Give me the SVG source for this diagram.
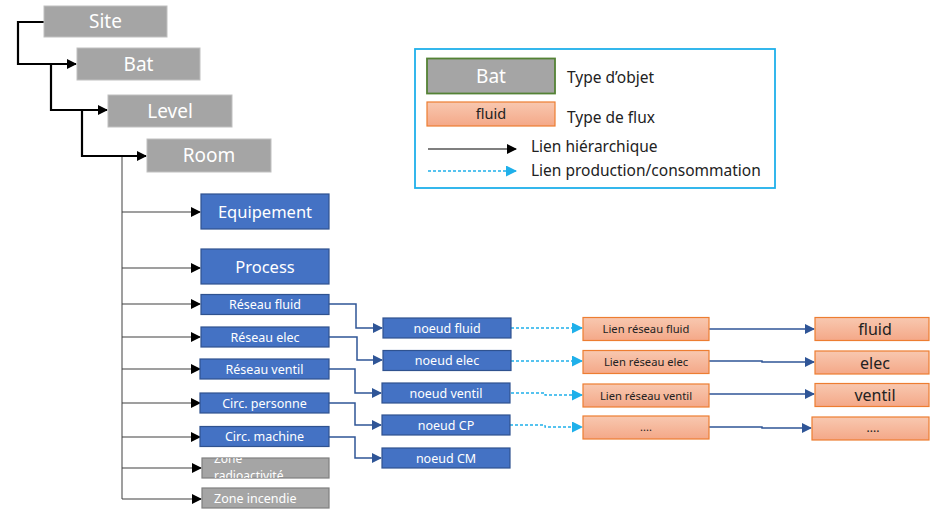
<svg xmlns="http://www.w3.org/2000/svg" width="930" height="509" viewBox="0 0 930 509">
  <style>
    text { font-family: "Noto Sans", "Open Sans", "DejaVu Sans", sans-serif; }
    .obj { fill: #A5A5A5; stroke: #C0C0C0; stroke-width: 1; }
    .zone { fill: #A5A5A5; stroke: #7F7F7F; stroke-width: 1.2; }
    .blue { fill: #4472C4; stroke: #2F528F; stroke-width: 1.2; }
    .flux { fill: url(#fluxGrad); stroke: #ED7D31; stroke-width: 1.2; }
    .lw { fill: #FFFFFF; text-anchor: middle; }
    .ld { fill: #222222; text-anchor: middle; }
    .hier { fill: none; stroke: #000000; stroke-width: 2.2; }
    .room { fill: none; stroke: #7F7F7F; stroke-width: 1.5; }
    .sub { fill: none; stroke: #404040; stroke-width: 1.2; }
    .net { fill: none; stroke: #2F5597; stroke-width: 1.5; }
    .prod { fill: none; stroke: #1FB0EA; stroke-width: 1.3; stroke-dasharray: 3 2; }
    .leg { fill: #222222; font-size: 15.5px; }
  </style>
  <defs>
    <linearGradient id="fluxGrad" x1="0" y1="0" x2="0" y2="1">
      <stop offset="0" stop-color="#F8C8B0"/>
      <stop offset="1" stop-color="#F4A888"/>
    </linearGradient>
    <marker id="arrBlack" markerWidth="10" markerHeight="10" refX="9" refY="5" orient="auto" markerUnits="userSpaceOnUse">
      <path d="M0,0 L10,5 L0,10 Z" fill="#000000"/>
    </marker>
    <marker id="arrBlue" markerWidth="10" markerHeight="10" refX="9" refY="5" orient="auto" markerUnits="userSpaceOnUse">
      <path d="M0,0 L10,5 L0,10 Z" fill="#2F5597"/>
    </marker>
    <marker id="arrCyan" markerWidth="11" markerHeight="11" refX="10" refY="5.5" orient="auto" markerUnits="userSpaceOnUse">
      <path d="M0,0 L11,5.5 L0,11 Z" fill="#1FB0EA"/>
    </marker>
    <clipPath id="clipRadio">
      <rect x="202" y="458" width="127" height="20"/>
    </clipPath>
  </defs>

  <!-- connectors -->
  <g id="connectors">
    <path class="hier" d="M44,22 H18 V64 H76" marker-end="url(#arrBlack)"/>
    <path class="hier" d="M51,64 V110 H107" marker-end="url(#arrBlack)"/>
    <path class="hier" d="M82,110 V156 H146" marker-end="url(#arrBlack)"/>
    <path class="room" d="M122,157 V499"/>
    <path class="sub" d="M122,212 H200" marker-end="url(#arrBlack)"/>
    <path class="sub" d="M122,268 H200" marker-end="url(#arrBlack)"/>
    <path class="sub" d="M122,304 H200" marker-end="url(#arrBlack)"/>
    <path class="sub" d="M122,337 H200" marker-end="url(#arrBlack)"/>
    <path class="sub" d="M122,369 H200" marker-end="url(#arrBlack)"/>
    <path class="sub" d="M122,403 H200" marker-end="url(#arrBlack)"/>
    <path class="sub" d="M122,437 H200" marker-end="url(#arrBlack)"/>
    <path class="sub" d="M122,468 H201" marker-end="url(#arrBlack)"/>
    <path class="sub" d="M122,499 H201" marker-end="url(#arrBlack)"/>

    <path class="net" d="M329,304 H356 V328 H382" marker-end="url(#arrBlue)"/>
    <path class="net" d="M329,337 H357 V360 H382" marker-end="url(#arrBlue)"/>
    <path class="net" d="M329,369 H355 V393 H381" marker-end="url(#arrBlue)"/>
    <path class="net" d="M329,403 H355 V425 H381" marker-end="url(#arrBlue)"/>
    <path class="net" d="M329,437 H355 V458 H381" marker-end="url(#arrBlue)"/>

    <path class="prod" d="M511,328 H582" marker-end="url(#arrCyan)"/>
    <path class="prod" d="M511,361 H582" marker-end="url(#arrCyan)"/>
    <path class="prod" d="M511,393 H545 V395 H582" marker-end="url(#arrCyan)"/>
    <path class="prod" d="M510,425 H545 V427 H582" marker-end="url(#arrCyan)"/>

    <path class="net" d="M709,329 H814" marker-end="url(#arrBlue)"/>
    <path class="net" d="M709,361 H762 V362 H814" marker-end="url(#arrBlue)"/>
    <path class="net" d="M709,394 H814" marker-end="url(#arrBlue)"/>
    <path class="net" d="M709,427 H762 V428 H811" marker-end="url(#arrBlue)"/>
  </g>

  <!-- object hierarchy -->
  <g id="site"><rect class="obj" x="44" y="6" width="123" height="31"/><text class="lw" x="105.5" y="28" font-size="19">Site</text></g>
  <g id="bat"><rect class="obj" x="77" y="48" width="123" height="32"/><text class="lw" x="138.5" y="71" font-size="19">Bat</text></g>
  <g id="level"><rect class="obj" x="108" y="95" width="124" height="32"/><text class="lw" x="170" y="118" font-size="19">Level</text></g>
  <g id="room"><rect class="obj" x="147" y="139" width="124" height="33"/><text class="lw" x="209" y="162" font-size="19">Room</text></g>

  <g id="equipement"><rect class="blue" x="201" y="194" width="128" height="35"/><text class="lw" x="265" y="218" font-size="16.5">Equipement</text></g>
  <g id="process"><rect class="blue" x="201" y="249" width="128" height="35"/><text class="lw" x="265" y="273" font-size="16.5">Process</text></g>
  <g id="reseau-fluid"><rect class="blue" x="201" y="294.5" width="128" height="20"/><text class="lw" x="265" y="309" font-size="12.5">Réseau fluid</text></g>
  <g id="reseau-elec"><rect class="blue" x="201" y="327" width="128" height="20"/><text class="lw" x="265" y="341.5" font-size="12.5">Réseau elec</text></g>
  <g id="reseau-ventil"><rect class="blue" x="200" y="359" width="129" height="20"/><text class="lw" x="264.5" y="373.5" font-size="12.5">Réseau ventil</text></g>
  <g id="circ-personne"><rect class="blue" x="200" y="393" width="129" height="20"/><text class="lw" x="264.5" y="407.5" font-size="12.5">Circ. personne</text></g>
  <g id="circ-machine"><rect class="blue" x="200" y="426.5" width="129" height="20"/><text class="lw" x="264.5" y="441" font-size="12.5">Circ. machine</text></g>
  <g id="zone-radioactivite">
    <rect class="zone" x="202" y="458" width="127" height="20"/>
    <g clip-path="url(#clipRadio)">
      <text x="214" y="463" font-size="12" fill="#FFFFFF">Zone</text>
      <text x="214" y="480" font-size="12" fill="#FFFFFF">radioactivité</text>
    </g>
  </g>
  <g id="zone-incendie"><rect class="zone" x="202" y="488" width="127" height="20"/><text x="214" y="502.5" font-size="12.5" fill="#FFFFFF">Zone incendie</text></g>

  <!-- network nodes -->
  <g id="noeud-fluid"><rect class="blue" x="383" y="318" width="128" height="20"/><text class="lw" x="447" y="332.5" font-size="12.5">noeud fluid</text></g>
  <g id="noeud-elec"><rect class="blue" x="383" y="350.5" width="128" height="20"/><text class="lw" x="447" y="365" font-size="12.5">noeud elec</text></g>
  <g id="noeud-ventil"><rect class="blue" x="382" y="383" width="128" height="20"/><text class="lw" x="446" y="397.5" font-size="12.5">noeud ventil</text></g>
  <g id="noeud-cp"><rect class="blue" x="382" y="415" width="128" height="20"/><text class="lw" x="446" y="429.5" font-size="12.5">noeud CP</text></g>
  <g id="noeud-cm"><rect class="blue" x="382" y="448" width="128" height="20"/><text class="lw" x="446" y="462.5" font-size="12.5">noeud CM</text></g>

  <!-- network links -->
  <g id="lien-fluid"><rect class="flux" x="583" y="317.5" width="126" height="23"/><text class="ld" x="646" y="333" font-size="11.2">Lien réseau fluid</text></g>
  <g id="lien-elec"><rect class="flux" x="583" y="350.5" width="126" height="23"/><text class="ld" x="646" y="366" font-size="11.2">Lien réseau elec</text></g>
  <g id="lien-ventil"><rect class="flux" x="583" y="384" width="126" height="23"/><text class="ld" x="646" y="399.5" font-size="11.2">Lien réseau ventil</text></g>
  <g id="lien-autre"><rect class="flux" x="583" y="416" width="126" height="23"/><text class="ld" x="646" y="431" font-size="11">....</text></g>

  <!-- flux types -->
  <g id="flux-fluid"><rect class="flux" x="815" y="317.5" width="114" height="23"/><text class="ld" x="875" y="335" font-size="16">fluid</text></g>
  <g id="flux-elec"><rect class="flux" x="815" y="351" width="114" height="23"/><text class="ld" x="875" y="368.5" font-size="16">elec</text></g>
  <g id="flux-ventil"><rect class="flux" x="815" y="383.5" width="114" height="23"/><text class="ld" x="875" y="401" font-size="16">ventil</text></g>
  <g id="flux-autre"><rect class="flux" x="812" y="417" width="117" height="23"/><text class="ld" x="873" y="432" font-size="12">....</text></g>

  <!-- legend -->
  <g id="legend">
    <rect x="415" y="49" width="360" height="139" fill="#FFFFFF" stroke="#1FB0EA" stroke-width="1.8"/>
    <rect x="427" y="58.5" width="128" height="35" fill="#A5A5A5" stroke="#548235" stroke-width="1.8"/>
    <text class="lw" x="491" y="83" font-size="19">Bat</text>
    <text class="leg" x="567" y="83">Type d’objet</text>
    <rect class="flux" x="427" y="102" width="128" height="24"/>
    <text class="ld" x="491" y="119" font-size="14.5">fluid</text>
    <text class="leg" x="567" y="123">Type de flux</text>
    <path d="M428,149 H516" fill="none" stroke="#000000" stroke-width="1.2" marker-end="url(#arrBlack)"/>
    <text class="leg" x="531" y="152">Lien hiérarchique</text>
    <path class="prod" d="M428,171 H516" marker-end="url(#arrCyan)"/>
    <text class="leg" x="531" y="176">Lien production/consommation</text>
  </g>
</svg>
